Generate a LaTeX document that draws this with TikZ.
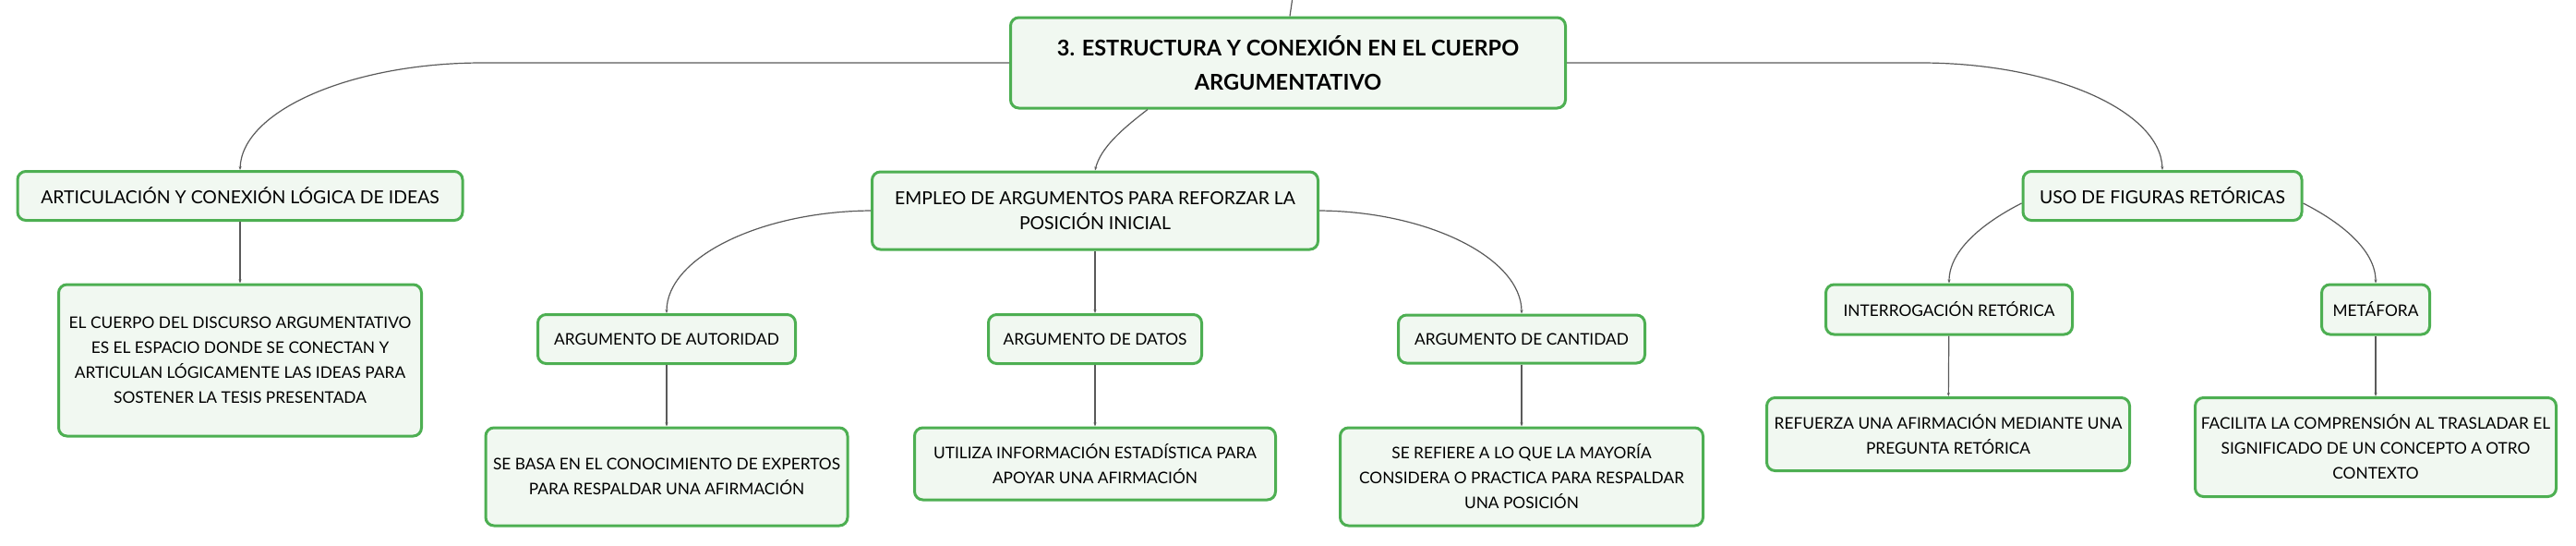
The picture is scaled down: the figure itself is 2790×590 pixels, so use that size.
\documentclass[tikz,border=0pt]{standalone}
\usepackage{fontspec}
\setmainfont{Lato}
\usepackage{tikz}
\usetikzlibrary{arrows.meta}
\definecolor{mgreen}{HTML}{4DAF52}
\definecolor{mfill}{HTML}{F1F8F1}
\definecolor{mline}{HTML}{5A5A5A}
\def\idea{\node[idea]}
\def\link{\draw[link]}
\def\big{\fontsize{19.4}{27}\selectfont}
\def\small{\fontsize{17.3}{27}\selectfont}

\begin{document}
\begin{tikzpicture}[x=1pt,y=-1pt,
  idea/.style={draw=mgreen,fill=mfill,line width=3pt,rounded corners=9pt,align=center,inner sep=0pt,font=\small},
  link/.style={mline,line width=1.2pt,-{Stealth[length=4pt,width=3pt]}}]
\useasboundingbox (0,0) rectangle (2790,590);
\idea[minimum width=601pt,minimum height=98pt,font=\fontsize{23.5}{37}\selectfont\bfseries] (root) at (1395,68) {3. ESTRUCTURA Y CONEXIÓN EN EL CUERPO\\ARGUMENTATIVO};
\idea[minimum width=482pt,minimum height=53pt,font=\big] (art) at (260,212) {ARTICULACIÓN Y CONEXIÓN LÓGICA DE IDEAS};
\idea[minimum width=483pt,minimum height=84pt,font=\big] (emp) at (1186,228) {EMPLEO DE ARGUMENTOS PARA REFORZAR LA\\POSICIÓN INICIAL};
\idea[minimum width=302pt,minimum height=53pt,font=\big] (uso) at (2342,212) {USO DE FIGURAS RETÓRICAS};
\idea[minimum width=393pt,minimum height=164pt] (cuerpo) at (260,390) {EL CUERPO DEL DISCURSO ARGUMENTATIVO\\ES EL ESPACIO DONDE SE CONECTAN Y\\ARTICULAN LÓGICAMENTE LAS IDEAS PARA\\SOSTENER LA TESIS PRESENTADA};
\idea[minimum width=279pt,minimum height=53pt] (aut) at (722,367) {ARGUMENTO DE AUTORIDAD};
\idea[minimum width=231pt,minimum height=53pt] (datos) at (1186,367) {ARGUMENTO DE DATOS};
\idea[minimum width=267pt,minimum height=52pt] (cant) at (1648,367) {ARGUMENTO DE CANTIDAD};
\idea[minimum width=392pt,minimum height=106pt] (basa) at (722,516) {SE BASA EN EL CONOCIMIENTO DE EXPERTOS\\PARA RESPALDAR UNA AFIRMACIÓN};
\idea[minimum width=391pt,minimum height=78pt] (util) at (1186,502) {UTILIZA INFORMACIÓN ESTADÍSTICA PARA\\APOYAR UNA AFIRMACIÓN};
\idea[minimum width=393pt,minimum height=106pt] (refiere) at (1648,516) {SE REFIERE A LO QUE LA MAYORÍA\\CONSIDERA O PRACTICA PARA RESPALDAR\\UNA POSICIÓN};
\idea[minimum width=267pt,minimum height=54pt] (interr) at (2111,335) {INTERROGACIÓN RETÓRICA};
\idea[minimum width=117pt,minimum height=54pt] (meta) at (2573,335) {METÁFORA};
\idea[minimum width=393pt,minimum height=79pt] (refuerza) at (2110,470) {REFUERZA UNA AFIRMACIÓN MEDIANTE UNA\\PREGUNTA RETÓRICA};
\idea[minimum width=391pt,minimum height=107pt] (facilita) at (2573,484) {FACILITA LA COMPRENSIÓN AL TRASLADAR EL\\SIGNIFICADO DE UN CONCEPTO A OTRO\\CONTEXTO};
\coordinate (up) at (1401,-10);
\draw[link,-] (up) -- ([xshift=2pt]root.north);
\link (root.west) -- (523,68) .. controls (380,68) and (262,120) .. (art.north);
\link (root.east) -- (2080,68) .. controls (2223,68) and (2340,120) .. (uso.north);
\link ([xshift=-152pt]root.south) .. controls (1215,140) and (1192,160) .. (emp.north);
\link (emp.west) .. controls (823,229) and (722,279) .. (aut.north);
\link (emp.east) .. controls (1548,229) and (1648,280) .. (cant.north);
\link (emp) -- (datos);
\link ([yshift=-8pt]uso.west) .. controls (2150,240) and (2111,270) .. (interr.north);
\link ([yshift=-8pt]uso.east) .. controls (2534,240) and (2573,270) .. (meta.north);
\link (art) -- (cuerpo);
\link (aut) -- (basa);
\link (datos) -- (util);
\link (cant) -- (refiere);
\link (interr) -- (refuerza);
\link (meta) -- (facilita);
\end{tikzpicture}
\end{document}
